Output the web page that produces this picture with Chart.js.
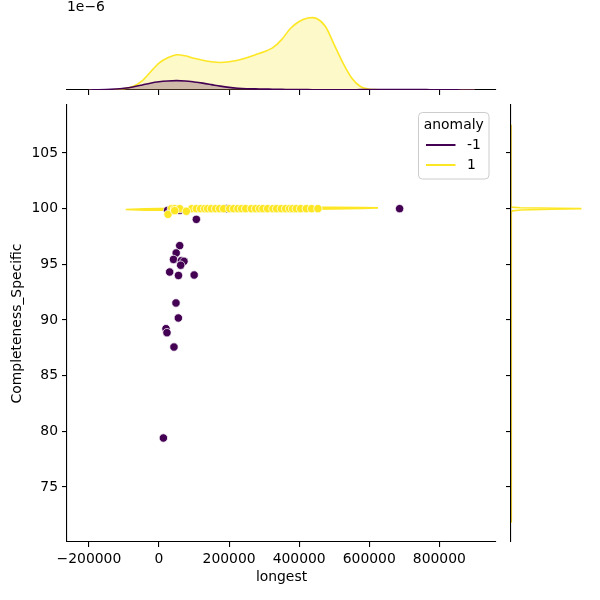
<!DOCTYPE html>
<html><head><meta charset="utf-8">
<script src="https://cdn.jsdelivr.net/npm/chart.js@4.4.1/dist/chart.umd.min.js"></script>
<style>
html,body{margin:0;padding:0;background:#fff;}
#wrap{position:relative;width:600px;height:600px;background:#fff;}
#wrap canvas{position:absolute;left:0;top:0;}
</style></head><body>
<div id="wrap">
<canvas id="cTop" width="600" height="600"></canvas>
<canvas id="cRight" width="600" height="600"></canvas>
<canvas id="cMain" width="600" height="600"></canvas>
</div>
<script>
// ---------- data ----------
const hueTitle = 'anomaly';
const hueLabels = ['-1', '1'];
const hueColors = ['#440154', '#fde725'];
const hueFills = ['rgba(68,1,84,0.25)', 'rgba(253,231,37,0.25)'];
const xTitle = 'longest';
const yTitle = 'Completeness_Specific';
const xTicks = [-200000, 0, 200000, 400000, 600000, 800000];
const yTicks = [75, 80, 85, 90, 95, 100, 105];
const xRange = [-262500, 961800];
const yRange = [70.06, 109.31];

// scatter, anomaly = -1
const anomX = [24800, 59100, 106700, 192300, 686700, 59100, 49100, 41400, 63900, 71300, 61900, 30500, 55600, 100400, 48500, 55300, 20000, 22800, 42800, 12600];
const anomY = [99.85, 99.85, 99.04, 100, 100, 96.68, 96.02, 95.44, 95.33, 95.27, 94.92, 94.31, 94.0, 94.04, 91.53, 90.18, 89.22, 88.86, 87.57, 79.4];
// scatter, anomaly = 1
const normX = [35400, 44800, 59100, 93300, 106700, 119000, 130400, 138900, 149500, 161800, 173200, 184600, 201700, 213100, 225400, 235900, 247400, 263600, 275900, 287300, 296700, 310100, 325200, 335800, 349200, 361500, 372900, 381500, 392000, 404300, 420500, 435600, 453600, 25700, 78200, 44800];
const normY = [100, 100, 100, 100, 100, 100, 100, 100, 100, 100, 100, 100, 100, 100, 100, 100, 100, 100, 100, 100, 100, 100, 100, 100, 100, 100, 100, 100, 100, 100, 100, 100, 100, 99.49, 99.76, 99.82];

// joint KDE contours (anomaly = 1)
const contourOuterX = [-95000, -40000, 0, 100000, 200000, 300000, 400000, 500000, 580000, 625000, 580000, 500000, 400000, 300000, 200000, 100000, 0, -40000, -95000];
const contourOuterY = [99.93, 99.99, 100.02, 100.06, 100.08, 100.10, 100.12, 100.13, 100.11, 100.07, 100.02, 99.98, 99.95, 99.92, 99.89, 99.87, 99.86, 99.87, 99.93];
const contourInnerX = [-30000, 50000, 150000, 300000, 450000, 540000, 450000, 300000, 150000, 50000, -30000];
const contourInnerY = [99.95, 100.0, 100.03, 100.05, 100.08, 100.06, 100.02, 99.98, 99.94, 99.92, 99.95];

// top marginal KDE (density, units of 1e-6)
const kdeGridX = [-200000, -175000, -150000, -125000, -100000, -75000, -50000, -25000, 0, 25000, 50000, 75000, 100000, 125000, 150000, 175000, 200000, 225000, 250000, 275000, 300000, 325000, 350000, 375000, 400000, 425000, 450000, 475000, 500000, 525000, 550000, 575000, 600000, 625000, 650000, 675000, 700000, 725000, 750000, 775000, 800000, 825000, 850000, 875000, 900000];
const kdeTopNeg = [0, 0.008, 0.019, 0.039, 0.069, 0.116, 0.185, 0.262, 0.317, 0.347, 0.359, 0.347, 0.309, 0.262, 0.205, 0.147, 0.1, 0.069, 0.05, 0.042, 0.035, 0.029, 0.023, 0.019, 0.015, 0.013, 0.012, 0.012, 0.012, 0.012, 0.012, 0.013, 0.015, 0.017, 0.019, 0.02, 0.019, 0.017, 0.015, 0.011, 0.008, 0.005, 0.003, 0.001, 0];
const kdeTopPos = [0, 0, 0.002, 0.012, 0.05, 0.13, 0.33, 0.68, 1.03, 1.235, 1.351, 1.312, 1.216, 1.139, 1.081, 1.054, 1.081, 1.139, 1.235, 1.351, 1.467, 1.621, 1.93, 2.355, 2.625, 2.76, 2.741, 2.432, 1.737, 1.042, 0.463, 0.135, 0.031, 0.012, 0.008, 0.008, 0.008, 0.008, 0.006, 0.005, 0.004, 0.002, 0.001, 0, 0];
const topMax = 2.89;

// right marginal KDE (density along Completeness_Specific)
const kdeRightPosY = [71.85, 99.5, 99.7, 99.8, 99.88, 99.94, 100.0, 100.04, 100.08, 100.14, 107.53];
const kdeRightPos = [0, 0, 0.5, 1.2, 8, 35, 60, 40, 8, 0, 0];
const kdeRightNegY = [71.85, 80, 90, 95, 100, 107.53];
const kdeRightNeg = [0.02, 0.05, 0.08, 0.1, 0.1, 0.02];
const rightMax = 63;

// ---------- helpers ----------
const FONT = {family: "'DejaVu Sans', sans-serif", size: 13.9};
Chart.defaults.font.family = FONT.family;
Chart.defaults.font.size = FONT.size;
Chart.defaults.color = '#000';
const pts = (xs, ys) => xs.map((x, i) => ({x: x, y: ys[i]}));
const fixedTicks = vals => axis => { axis.ticks = vals.map(v => ({value: v})); };
const fmt = v => v < 0 ? '\u2212' + Math.abs(v) : String(v);
const gridOpts = {drawOnChartArea: false, drawTicks: true, tickLength: 5, color: '#000', lineWidth: 1.1};
const borderOpts = {display: true, color: '#000', width: 1.1};
const baseOpts = {responsive: false, animation: false, devicePixelRatio: 1,
  plugins: {legend: {display: false}, tooltip: {enabled: false}}};

// ---------- main joint plot ----------
const legendPlugin = {
  id: 'mplLegend',
  afterDraw(chart) {
    const ctx = chart.ctx;
    const L = 418.5, T = 112.5, W = 70.5, H = 66.5, r = 4;
    ctx.save();
    ctx.beginPath();
    ctx.moveTo(L + r, T); ctx.lineTo(L + W - r, T); ctx.quadraticCurveTo(L + W, T, L + W, T + r);
    ctx.lineTo(L + W, T + H - r); ctx.quadraticCurveTo(L + W, T + H, L + W - r, T + H);
    ctx.lineTo(L + r, T + H); ctx.quadraticCurveTo(L, T + H, L, T + H - r);
    ctx.lineTo(L, T + r); ctx.quadraticCurveTo(L, T, L + r, T);
    ctx.closePath();
    ctx.fillStyle = 'rgba(255,255,255,0.8)'; ctx.fill();
    ctx.strokeStyle = '#cccccc'; ctx.lineWidth = 1; ctx.stroke();
    ctx.font = FONT.size + "px 'DejaVu Sans'";
    ctx.fillStyle = '#000'; ctx.textBaseline = 'middle';
    ctx.textAlign = 'center';
    ctx.fillText(hueTitle, L + W / 2, 125);
    ctx.textAlign = 'left';
    hueLabels.forEach((lab, i) => {
      const y = 145 + i * 20;
      ctx.strokeStyle = hueColors[i]; ctx.lineWidth = 2;
      ctx.beginPath(); ctx.moveTo(426, y); ctx.lineTo(455.5, y); ctx.stroke();
      ctx.fillText(lab, 467, y);
    });
    ctx.restore();
  }
};

new Chart(document.getElementById('cMain'), {
  type: 'scatter',
  data: {datasets: [
    {label: hueLabels[1], data: pts(normX, normY), backgroundColor: hueColors[1], borderColor: '#ffffff', borderWidth: 0.75, pointRadius: 4.2, order: 1},
    {label: hueLabels[0], data: pts(anomX, anomY), backgroundColor: hueColors[0], borderColor: '#ffffff', borderWidth: 0.75, pointRadius: 4.2, order: 2},
    {label: 'kde-outer', data: pts(contourOuterX, contourOuterY), showLine: true, borderColor: hueColors[1], borderWidth: 1.6, pointRadius: 0, fill: false, order: 3},
    {label: 'kde-inner', data: pts(contourInnerX, contourInnerY), showLine: true, borderColor: hueColors[1], borderWidth: 1.6, pointRadius: 0, fill: false, order: 3}
  ]},
  options: Object.assign({}, baseOpts, {
    layout: {padding: {left: 0, right: 104, top: 105, bottom: 0}},
    scales: {
      x: {type: 'linear', position: 'bottom', min: xRange[0], max: xRange[1],
        afterBuildTicks: fixedTicks(xTicks), afterFit: s => { s.height = 58; },
        grid: gridOpts, border: borderOpts,
        ticks: {callback: fmt, padding: 4.5, maxRotation: 0, autoSkip: false, color: '#000', font: FONT},
        title: {display: true, text: xTitle, color: '#000', font: FONT, padding: {top: 0, bottom: 14}}},
      y: {type: 'linear', position: 'left', min: yRange[0], max: yRange[1],
        afterBuildTicks: fixedTicks(yTicks), afterFit: s => { s.width = 67; },
        grid: gridOpts, border: borderOpts,
        ticks: {callback: v => String(v), padding: 4, autoSkip: false, color: '#000', font: FONT},
        title: {display: true, text: yTitle, color: '#000', font: FONT, padding: {top: 8.6, bottom: 0}}}
    }
  }),
  plugins: [legendPlugin]
});

// ---------- top marginal ----------
const offsetTextPlugin = {
  id: 'offsetText',
  afterDraw(chart) {
    const ctx = chart.ctx;
    ctx.save();
    ctx.font = FONT.size + "px 'DejaVu Sans'";
    ctx.fillStyle = '#000'; ctx.textAlign = 'left'; ctx.textBaseline = 'middle';
    ctx.fillText('1e\u22126', 67, 7);
    ctx.restore();
  }
};
new Chart(document.getElementById('cTop'), {
  type: 'line',
  data: {datasets: [
    {label: hueLabels[0], data: pts(kdeGridX, kdeTopNeg), borderColor: hueColors[0], backgroundColor: hueFills[0], fill: 'origin', borderWidth: 1.6, pointRadius: 0, tension: 0.3, order: 1},
    {label: hueLabels[1], data: pts(kdeGridX, kdeTopPos), borderColor: hueColors[1], backgroundColor: hueFills[1], fill: 'origin', borderWidth: 1.6, pointRadius: 0, tension: 0.3, order: 2}
  ]},
  options: Object.assign({}, baseOpts, {
    layout: {padding: {left: 67, right: 104, top: 14.6, bottom: 0}},
    scales: {
      x: {type: 'linear', position: 'bottom', min: xRange[0], max: xRange[1],
        afterBuildTicks: fixedTicks(xTicks), afterFit: s => { s.height = 510; },
        grid: gridOpts, border: borderOpts, ticks: {display: false}},
      y: {type: 'linear', display: false, min: 0, max: topMax}
    }
  }),
  plugins: [offsetTextPlugin]
});

// ---------- right marginal ----------
new Chart(document.getElementById('cRight'), {
  type: 'scatter',
  data: {datasets: [
    {label: hueLabels[0], data: pts(kdeRightNeg, kdeRightNegY), showLine: true, borderColor: 'rgba(68,1,84,0.35)', borderWidth: 1, pointRadius: 0, order: 1},
    {label: hueLabels[1], data: pts(kdeRightPos, kdeRightPosY), showLine: true, borderColor: hueColors[1], borderWidth: 1.6, pointRadius: 0, order: 2}
  ]},
  options: Object.assign({}, baseOpts, {
    layout: {padding: {left: 0, right: 15, top: 105, bottom: 58}},
    scales: {
      x: {type: 'linear', display: false, min: 0, max: rightMax},
      y: {type: 'linear', position: 'left', min: yRange[0], max: yRange[1],
        afterBuildTicks: fixedTicks(yTicks), afterFit: s => { s.width = 511; },
        grid: gridOpts, border: borderOpts, ticks: {display: false}}
    }
  })
});
</script>
</body></html>
